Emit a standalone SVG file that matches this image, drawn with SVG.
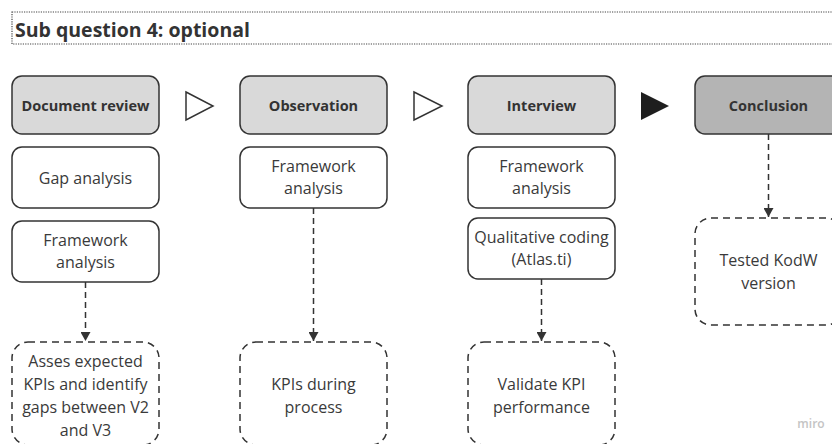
<svg xmlns="http://www.w3.org/2000/svg" width="832" height="444" viewBox="0 0 832 444">
<style>
  text { font-family: "Open Sans", "Noto Sans", "DejaVu Sans", sans-serif; fill: #333; }
  .hdr { fill: #d9d9d9; stroke: #333; stroke-width: 1.5; }
  .hdr2 { fill: #b4b4b4; stroke: #333; stroke-width: 1.5; }
  .box { fill: #fff; stroke: #333; stroke-width: 1.5; }
  .dbox { fill: #fff; stroke: #333; stroke-width: 1.5; stroke-dasharray: 7 5; }
  .ht { font-size: 14.5px; font-weight: 700; text-anchor: middle; }
  .bt { font-size: 16px; text-anchor: middle; fill: #3a3a3a; }
  .conn { fill: none; stroke: #333; stroke-width: 1.5; stroke-dasharray: 6 4; }
  .tri { fill: #fff; stroke: #333; stroke-width: 1.5; stroke-linejoin: miter; }
</style>
<defs>
  <marker id="ah" markerWidth="12" markerHeight="10" refX="9" refY="5" orient="auto" markerUnits="userSpaceOnUse">
    <path d="M0,0 L9,5 L0,10 Z" fill="#333"/>
  </marker>
</defs>
<rect x="0" y="0" width="832" height="444" fill="#fff"/>

<g id="title">
  <rect x="12" y="12" width="830" height="32" fill="none" stroke="#444" stroke-width="1.2" stroke-dasharray="1.2 1.2"/>
  <text x="15" y="37" style="font-size:19.5px;font-weight:700">Sub question 4: optional</text>
</g>

<g id="flow-arrows">
  <polygon class="tri" points="186,92 213,106 186,120"/>
  <polygon class="tri" points="414,92 442,106 414,120"/>
  <polygon points="641,92 669,106 641,120" fill="#1e1e1e"/>
</g>

<g id="connectors">
  <line class="conn" x1="85.5" y1="282" x2="85.5" y2="341" marker-end="url(#ah)"/>
  <line class="conn" x1="313.5" y1="208" x2="313.5" y2="341" marker-end="url(#ah)"/>
  <line class="conn" x1="541.5" y1="279" x2="541.5" y2="341" marker-end="url(#ah)"/>
  <line class="conn" x1="768.5" y1="134" x2="768.5" y2="217" marker-end="url(#ah)"/>
</g>

<g id="document-review">
  <rect class="hdr" x="12" y="76" width="147" height="58" rx="10"/>
  <text class="ht" x="85.5" y="111">Document review</text>
</g>
<g id="gap-analysis">
  <rect class="box" x="12" y="147" width="147" height="61" rx="10"/>
  <text class="bt" x="85.5" y="183.5">Gap analysis</text>
</g>
<g id="framework-analysis-1">
  <rect class="box" x="12" y="221" width="147" height="61" rx="10"/>
  <text class="bt" x="85.5" y="246">Framework</text>
  <text class="bt" x="85.5" y="268">analysis</text>
</g>
<g id="asses-kpis">
  <rect class="dbox" x="12" y="342" width="147" height="103" rx="16"/>
  <text class="bt" x="85.5" y="367">Asses expected</text>
  <text class="bt" x="85.5" y="390">KPIs and identify</text>
  <text class="bt" x="85.5" y="413">gaps between V2</text>
  <text class="bt" x="85.5" y="436">and V3</text>
</g>

<g id="observation">
  <rect class="hdr" x="240" y="76" width="147" height="58" rx="10"/>
  <text class="ht" x="313.5" y="111">Observation</text>
</g>
<g id="framework-analysis-2">
  <rect class="box" x="240" y="147" width="147" height="61" rx="10"/>
  <text class="bt" x="313.5" y="172">Framework</text>
  <text class="bt" x="313.5" y="194">analysis</text>
</g>
<g id="kpis-during-process">
  <rect class="dbox" x="240" y="342" width="147" height="103" rx="16"/>
  <text class="bt" x="313.5" y="390">KPIs during</text>
  <text class="bt" x="313.5" y="413">process</text>
</g>

<g id="interview">
  <rect class="hdr" x="468" y="76" width="147" height="58" rx="10"/>
  <text class="ht" x="541.5" y="111">Interview</text>
</g>
<g id="framework-analysis-3">
  <rect class="box" x="468" y="147" width="147" height="61" rx="10"/>
  <text class="bt" x="541.5" y="172">Framework</text>
  <text class="bt" x="541.5" y="194">analysis</text>
</g>
<g id="qualitative-coding">
  <rect class="box" x="468" y="218" width="147" height="61" rx="10"/>
  <text class="bt" x="541.5" y="243">Qualitative coding</text>
  <text class="bt" x="541.5" y="265">(Atlas.ti)</text>
</g>
<g id="validate-kpi">
  <rect class="dbox" x="468" y="342" width="147" height="103" rx="16"/>
  <text class="bt" x="541.5" y="390">Validate KPI</text>
  <text class="bt" x="541.5" y="413">performance</text>
</g>

<g id="conclusion">
  <rect class="hdr2" x="695" y="76" width="147" height="58" rx="10"/>
  <text class="ht" x="768.5" y="111">Conclusion</text>
</g>
<g id="tested-kodw">
  <rect class="dbox" x="695" y="218" width="147" height="107" rx="16"/>
  <text class="bt" x="768.5" y="266">Tested KodW</text>
  <text class="bt" x="768.5" y="289">version</text>
</g>

<text x="811" y="428" style="font-size:12px;font-weight:600;fill:#c4c4c4;text-anchor:middle">miro</text>
</svg>
